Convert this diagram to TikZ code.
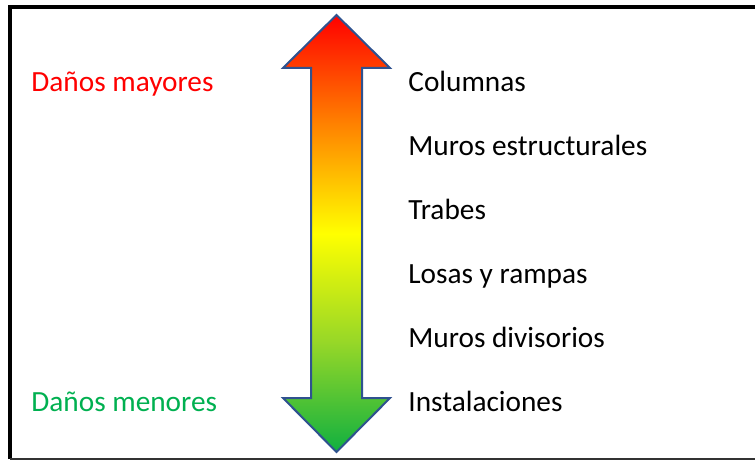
\documentclass[tikz,border=0pt]{standalone}
\usepackage{fontspec}
\setmainfont{Carlito}
\usetikzlibrary{positioning}
\definecolor{mayor}{RGB}{255,0,0}
\definecolor{menor}{RGB}{0,176,80}
\definecolor{marco}{RGB}{47,82,143}
\definecolor{vd}{RGB}{16,176,64}
\definecolor{vc}{RGB}{150,215,40}
\definecolor{am}{RGB}{255,255,0}
\definecolor{na}{RGB}{255,130,0}
\definecolor{ro}{RGB}{255,0,0}
\pgfdeclareverticalshading{danos}{100bp}{color(0bp)=(vd); color(25bp)=(vd); color(37.5bp)=(vc);
  color(50bp)=(am); color(62.5bp)=(na); color(75bp)=(ro); color(100bp)=(ro)}
\tikzset{
    flecha/.style={draw=marco, line width=2pt, line join=miter, shading=danos},
    etiqueta/.style={anchor=base west, inner sep=0pt, font=\fontsize{29.3}{34}\selectfont},
    mayores/.style={etiqueta, text=mayor},
    menores/.style={etiqueta, text=menor}
}
\begin{document}
\begin{tikzpicture}[x=1pt,y=-1pt,thick]
	\useasboundingbox (0,0) rectangle (755,460);
	% marco
	\draw[line width=4pt] (9.5,459) -- (9.5,7.5) -- (760,7.5);
	\draw[line width=2pt, black!80] (9.5,459) -- (760,459);
	% flecha doble
	\path[flecha] (336.5,15) -- (390,68) -- (362,68) -- (362,398) -- (390,398)
		-- (336.5,452) -- (283,398) -- (311,398) -- (311,68) -- (283,68) -- cycle;
	% extremos
	\node[mayores] (may) at (31,92) {Daños mayores};
	\node[menores] (men) at (31,411) {Daños menores};
	% elementos
	\node[etiqueta] (col) at (408,92) {Columnas};
	\node[etiqueta] (mur) at (408,155.8) {Muros estructurales};
	\node[etiqueta] (tra) at (408,219.6) {Trabes};
	\node[etiqueta] (los) at (408,283.4) {Losas y rampas};
	\node[etiqueta] (div) at (408,347.2) {Muros divisorios};
	\node[etiqueta] (ins) at (408,411) {Instalaciones};
\end{tikzpicture}
\end{document}
